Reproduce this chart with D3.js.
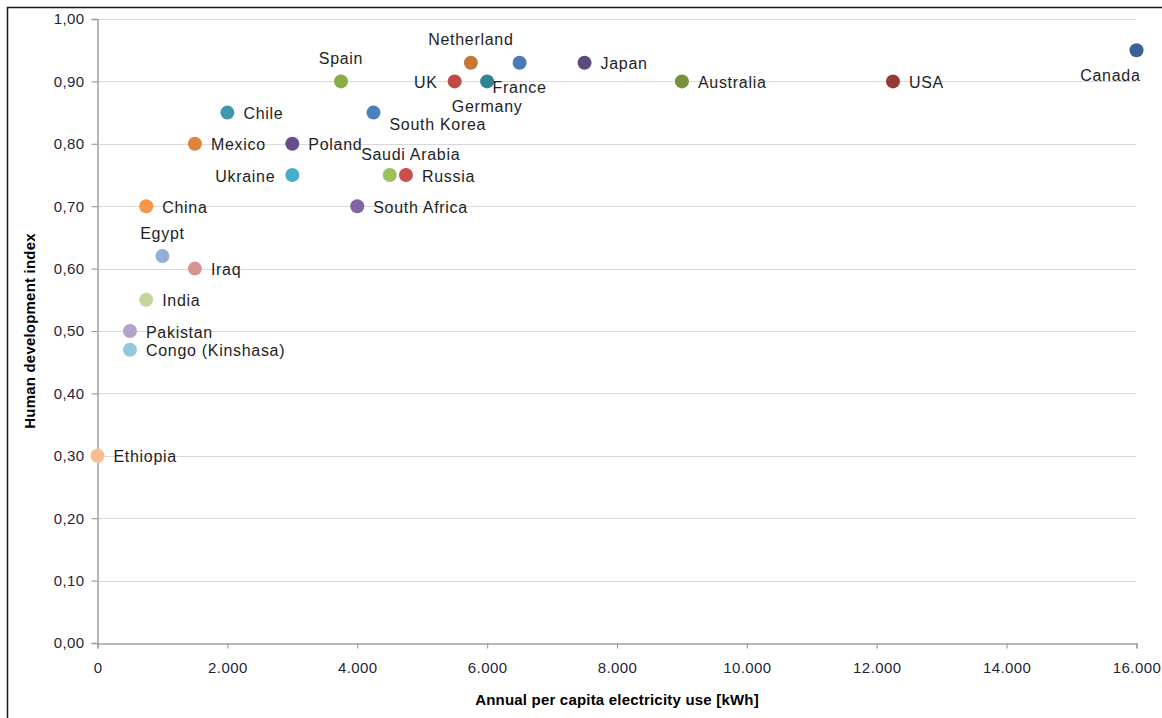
<!DOCTYPE html>
<html>
<head>
<meta charset="utf-8">
<script src="https://cdn.jsdelivr.net/npm/d3@7"></script>
<style>
  html, body { margin: 0; padding: 0; background: #fff; }
  svg { display: block; font-family: "Liberation Sans", Arial, sans-serif; }
</style>
</head>
<body>
<svg id="chart" width="1162" height="718"></svg>
<script>
// Countries, electricity use per capita (kWh) and human development index
const countries = ["Canada", "USA", "Australia", "Japan", "France", "Netherland", "Germany", "UK",
  "Spain", "South Korea", "Chile", "Mexico", "Poland", "Ukraine", "Saudi Arabia", "Russia",
  "South Africa", "China", "Egypt", "Iraq", "India", "Pakistan", "Congo (Kinshasa)", "Ethiopia"];
const electricity = [16000, 12250, 9000, 7500, 6500, 5750, 6000, 5500,
  3750, 4250, 2000, 1500, 3000, 3000, 4500, 4750,
  4000, 750, 1000, 1500, 750, 500, 500, 0];
const hdi = [0.95, 0.90, 0.90, 0.93, 0.93, 0.93, 0.90, 0.90,
  0.90, 0.85, 0.85, 0.80, 0.80, 0.75, 0.75, 0.75,
  0.70, 0.70, 0.62, 0.60, 0.55, 0.50, 0.47, 0.30];
const colors = ["#3a6194", "#963a38", "#77913f", "#5f4a7c", "#4a7ab8", "#c77634", "#2f8496", "#be4a48",
  "#8aae45", "#4c7fbd", "#3d98ae", "#e08239", "#6a4e8c", "#47adc7", "#9cc05a", "#c9504e",
  "#8063a1", "#f7954a", "#92afd6", "#d79493", "#c1d79c", "#b3a3c9", "#92c8da", "#fbbd90"];
// Where each label sits relative to its marker
const labelPlace = ["below", "right", "right", "right", "below", "above", "below", "left",
  "above", "belowright", "right", "right", "right", "left", "aboveright", "right",
  "right", "right", "above", "right", "right", "right", "right", "right"];

const xTicks = [0, 2000, 4000, 6000, 8000, 10000, 12000, 14000, 16000];
const yTicks = [0, 0.1, 0.2, 0.3, 0.4, 0.5, 0.6, 0.7, 0.8, 0.9, 1.0];

const xTitle = "Annual per capita electricity use [kWh]";
const yTitle = "Human development index";

const svg = d3.select("#chart");
const W = 1162, H = 718;
const plot = { left: 97.5, right: 1136.5, top: 19, bottom: 643 };

const x = d3.scaleLinear().domain([0, 16000]).range([plot.left, plot.right]);
const y = d3.scaleLinear().domain([0, 1]).range([plot.bottom, plot.top]);

const fmtX = v => d3.format(",")(v).replace(/,/g, ".");
const fmtY = v => d3.format(".2f")(v).replace(".", ",");

// outer frame
svg.append("rect")
  .attr("x", 7.5).attr("y", 7.5)
  .attr("width", W + 20).attr("height", H + 20)
  .attr("fill", "none").attr("stroke", "#1a1a1a").attr("stroke-width", 1.5);

// horizontal gridlines
svg.append("g")
  .selectAll("line")
  .data(yTicks.filter(t => t > 0))
  .join("line")
  .attr("x1", plot.left).attr("x2", plot.right)
  .attr("y1", d => Math.round(y(d)) + 0.5).attr("y2", d => Math.round(y(d)) + 0.5)
  .attr("stroke", "#d9d9d9").attr("stroke-width", 1.2);

// y axis
const yAxis = svg.append("g")
  .attr("transform", `translate(${plot.left},0)`)
  .call(d3.axisLeft(y).tickValues(yTicks).tickFormat(fmtY).tickSize(6).tickPadding(7));
yAxis.select(".domain").attr("stroke", "#a0a0a0").attr("stroke-width", 1.5);
yAxis.selectAll(".tick line").attr("stroke", "#a0a0a0").attr("stroke-width", 1.2);
yAxis.selectAll(".tick text")
  .attr("fill", "#1f1f3a").attr("font-size", 15).attr("letter-spacing", 0.4)
  .attr("font-family", "'Liberation Sans', Arial, sans-serif");

// x axis
const xAxis = svg.append("g")
  .attr("transform", `translate(0,${plot.bottom + 0.5})`)
  .call(d3.axisBottom(x).tickValues(xTicks).tickFormat(fmtX).tickSize(5).tickPadding(14));
xAxis.select(".domain").attr("stroke", "#a0a0a0").attr("stroke-width", 1.5);
xAxis.selectAll(".tick line").attr("stroke", "#a0a0a0").attr("stroke-width", 1.2);
xAxis.selectAll(".tick text")
  .attr("fill", "#1f1f3a").attr("font-size", 15).attr("letter-spacing", 0.4)
  .attr("font-family", "'Liberation Sans', Arial, sans-serif");

// axis titles
svg.append("text")
  .attr("x", (plot.left + plot.right) / 2).attr("y", 705)
  .attr("text-anchor", "middle")
  .attr("font-size", 15).attr("font-weight", "bold").attr("letter-spacing", 0.2)
  .attr("fill", "#000")
  .text(xTitle);

svg.append("text")
  .attr("transform", `translate(35,${(plot.top + plot.bottom) / 2}) rotate(-90)`)
  .attr("text-anchor", "middle")
  .attr("font-size", 15).attr("font-weight", "bold").attr("letter-spacing", 0.2)
  .attr("fill", "#000")
  .text(yTitle);

// data points
const data = countries.map((c, i) => ({
  name: c, x: electricity[i], y: hdi[i], color: colors[i], place: labelPlace[i]
}));

svg.append("g")
  .selectAll("circle")
  .data(data)
  .join("circle")
  .attr("cx", d => x(d.x))
  .attr("cy", d => y(d.y))
  .attr("r", 7)
  .attr("fill", d => d.color);

// data labels
const labels = svg.append("g")
  .attr("font-size", 16).attr("letter-spacing", 0.7).attr("fill", "#1e1e1e")
  .selectAll("text")
  .data(data)
  .join("text")
  .text(d => d.name)
  .attr("dy", "0.35em");

labels.each(function (d) {
  const t = d3.select(this);
  const cx = x(d.x), cy = y(d.y);
  switch (d.place) {
    case "right":
      t.attr("x", cx + 16).attr("y", cy + 1).attr("text-anchor", "start"); break;
    case "left":
      t.attr("x", cx - 17).attr("y", cy + 1).attr("text-anchor", "end"); break;
    case "above":
      t.attr("x", cx).attr("y", cy - 23).attr("text-anchor", "middle"); break;
    case "aboveright":
      t.attr("x", cx + 21).attr("y", cy - 21).attr("text-anchor", "middle"); break;
    case "belowright":
      t.attr("x", cx + 16).attr("y", cy + 12).attr("text-anchor", "start"); break;
    case "below": {
      // keep labels inside the plot's right edge
      const w = this.getComputedTextLength();
      const center = Math.min(cx, plot.right + 4 - w / 2);
      t.attr("x", center).attr("y", cy + 25).attr("text-anchor", "middle"); break;
    }
  }
});
</script>
</body>
</html>
